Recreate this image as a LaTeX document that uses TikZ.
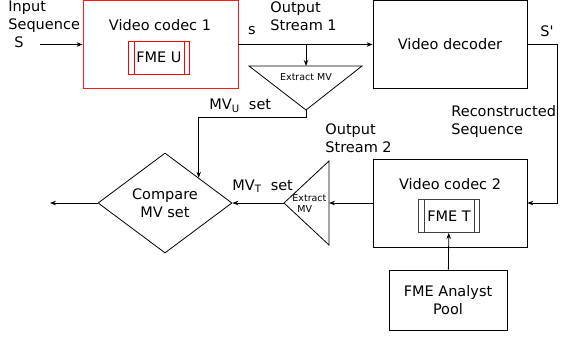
\documentclass[tikz,border=0pt]{standalone}
\usepackage{fontspec}
\setmainfont{DejaVu Sans}
\usetikzlibrary{arrows.meta,shapes.geometric}

\begin{document}
\begin{tikzpicture}[x=1pt,y=-1pt,line width=.8pt,
    font=\fontsize{14.5}{18}\selectfont,
    blk/.style={draw,minimum width=154pt,minimum height=88pt,inner sep=0pt},
    fme/.style={draw,minimum width=61pt,minimum height=33pt,inner sep=0pt},
    lbl/.style={inner sep=0pt,align=left,anchor=west},
    tiny/.style={font=\fontsize{9.5}{11}\selectfont,inner sep=0pt},
    arr/.style={-{Stealth[length=6pt,width=4.5pt]}}]
  \useasboundingbox (0,0) rectangle (561,337);
  % boxes
  \node[blk,draw=red!90!white,minimum width=155pt] (codec1) at (160.5,44.5) {};
  \node[blk] (decoder) at (450,44.5) {Video decoder};
  \node[blk] (codec2) at (450,203) {};
  \node[draw,minimum width=118pt,minimum height=60pt,align=center] (pool) at (448,300) {FME Analyst\\Pool};
  \node (c1txt) at (160,25) {Video codec 1};
  \node (c2txt) at (450,184) {Video codec 2};
  \node[fme,draw=red] (fmeu) at (159,57.5) {FME U};
  \node[fme,draw=black!75] (fmet) at (449,216) {FME T};
  \foreach \f/\c in {fmeu/red,fmet/black!75} {
    \draw[\c] ([xshift=6pt]\f.north west) -- ([xshift=6pt]\f.south west);
    \draw[\c] ([xshift=-6pt]\f.north east) -- ([xshift=-6pt]\f.south east);
  }
  \node[draw,diamond,minimum width=134pt,minimum height=100pt,inner sep=0pt,align=center] (cmp) at (165,203) {Compare\\MV set};
  % extractors
  \coordinate (ex1l) at (249,66); \coordinate (ex1r) at (362,66); \coordinate (ex1apex) at (306,110);
  \coordinate (ex1top) at (306,66);
  \draw (ex1l) -- (ex1r) -- (ex1apex) -- cycle;
  \node[tiny] (ex1txt) at (306,77) {Extract MV};
  \coordinate (ex2t) at (329,161); \coordinate (ex2b) at (329,245); \coordinate (ex2apex) at (284,203);
  \coordinate (ex2in) at (329,203);
  \draw (ex2t) -- (ex2b) -- (ex2apex) -- cycle;
  \node[tiny,align=left,anchor=west] (ex2txt) at (292,204) {Extract\\\hspace*{5pt}MV};
  % connectors
  \coordinate (src) at (40,44.5);
  \coordinate (tap) at (306,44.5);
  \coordinate (sink) at (50,203);
  \draw[arr] (src) -- (codec1);
  \draw[arr] (codec1) -- (decoder);
  \draw[arr] (tap) -- (ex1top);
  \draw[arr] (ex1apex) -- ++(0,7) -| (cmp.north east);
  \draw[arr] (decoder.east) -- ++(30,0) |- (codec2.east);
  \draw[arr] (codec2) -- (ex2in);
  \draw[arr] (ex2apex) -- (cmp.east);
  \draw[arr] (cmp.west) -- (sink);
  \draw[arr] (pool) -- (fmet);
  % labels
  \node[lbl] (insq) at (8,24) {Input\\Sequence\\\hspace*{6pt}S};
  \node (s) at (252,31) {s};
  \node[lbl] (os1) at (270,16.5) {Output\\Stream 1};
  \node (sp) at (547,31) {S\textquotesingle};
  \node[lbl] (rec) at (451,121) {Reconstructed\\Sequence};
  \node[lbl] (os2) at (325,138) {Output\\Stream 2};
  \node[lbl] (mvu) at (209,106) {MV\textsubscript{U}\ \ set};
  \node[lbl] (mvt) at (232,186) {MV\textsubscript{T}\ \ set};
\end{tikzpicture}
\end{document}
